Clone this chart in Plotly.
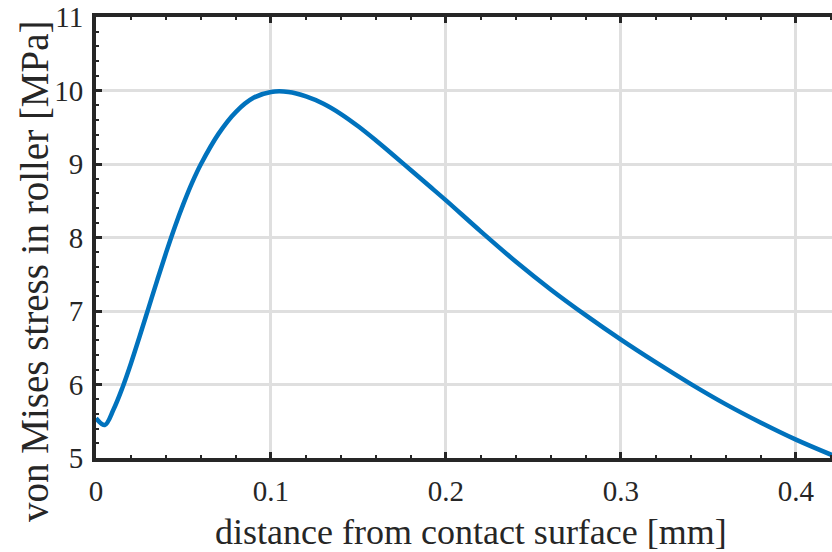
import plotly.graph_objects as go

# distance from contact surface [mm]
distance_mm = [0.0, 0.005, 0.010, 0.015, 0.020, 0.025, 0.030, 0.035, 0.040, 0.045,
               0.050, 0.055, 0.060, 0.070, 0.080, 0.090, 0.100, 0.110, 0.120, 0.130,
               0.140, 0.150, 0.160, 0.170, 0.180, 0.190, 0.200, 0.220, 0.240, 0.260,
               0.280, 0.300, 0.320, 0.340, 0.360, 0.380, 0.400, 0.4206]
# von Mises stress in roller [MPa]
stress_mpa = [5.54, 5.45, 5.66, 5.95, 6.29, 6.66, 7.04, 7.42, 7.79, 8.14,
              8.46, 8.75, 9.00, 9.41, 9.71, 9.90, 9.98, 9.98, 9.92, 9.82,
              9.68, 9.51, 9.32, 9.12, 8.915, 8.71, 8.505, 8.08, 7.67, 7.29,
              6.94, 6.61, 6.30, 6.006, 5.73, 5.48, 5.25, 5.04]

x_ticks = [0, 0.1, 0.2, 0.3, 0.4]
x_tick_labels = ["0", "0.1", "0.2", "0.3", "0.4"]
y_ticks = [5, 6, 7, 8, 9, 10, 11]
y_tick_labels = ["5", "6", "7", "8", "9", "10", "11"]

x_title = "distance from contact surface [mm]"
y_title = "von Mises stress in roller [MPa]"

W, H = 832, 552
ML, MR, MT, MB = 96, 0, 17, 94

FONT = "Liberation Serif"
AX = "#262626"

fig = go.Figure()
fig.add_trace(go.Scatter(
    x=distance_mm, y=stress_mpa, mode="lines",
    line=dict(color="#0072BD", width=4.5, shape="spline", smoothing=1.0),
    showlegend=False, hoverinfo="skip"))

axis_common = dict(
    showline=True, linecolor=AX, linewidth=4,
    ticks="inside", ticklen=6, tickwidth=3, tickcolor=AX,
    showgrid=True, gridcolor="#dfdfdf", gridwidth=3,
    zeroline=False,
    tickfont=dict(family=FONT, size=29, color=AX),
)

fig.update_xaxes(
    **axis_common,
    range=[0, 0.4206],
    tickvals=x_ticks, ticktext=x_tick_labels,
    mirror="ticks",
    ticklabelstandoff=4,
    minor=dict(dtick=0.02, tick0=0, ticks="inside", ticklen=3, tickwidth=2,
               tickcolor=AX, showgrid=False),
)
fig.update_yaxes(
    **axis_common,
    range=[5, 11],
    tickvals=y_ticks, ticktext=y_tick_labels,
    mirror=False,
    ticklabelstandoff=3,
    minor=dict(dtick=0.2, tick0=5, ticks="inside", ticklen=3, tickwidth=2,
               tickcolor=AX, showgrid=False),
)

fig.add_annotation(
    text=x_title, xref="paper", yref="paper",
    x=(471 - ML) / (W - ML - MR), y=-(532 - (H - MB)) / (H - MT - MB),
    xanchor="center", yanchor="middle", showarrow=False,
    font=dict(family=FONT, size=36, color=AX))
fig.add_annotation(
    text=y_title, xref="paper", yref="paper", textangle=-90,
    x=-(ML - 34) / (W - ML - MR), y=((H - MB) - 271) / (H - MT - MB),
    xanchor="center", yanchor="middle", showarrow=False,
    font=dict(family=FONT, size=39, color=AX))

fig.update_layout(
    width=W, height=H,
    margin=dict(l=ML, r=MR, t=MT, b=MB, pad=0),
    paper_bgcolor="white", plot_bgcolor="white",
    font=dict(family=FONT, color=AX),
)

fig.write_html("out.html")
